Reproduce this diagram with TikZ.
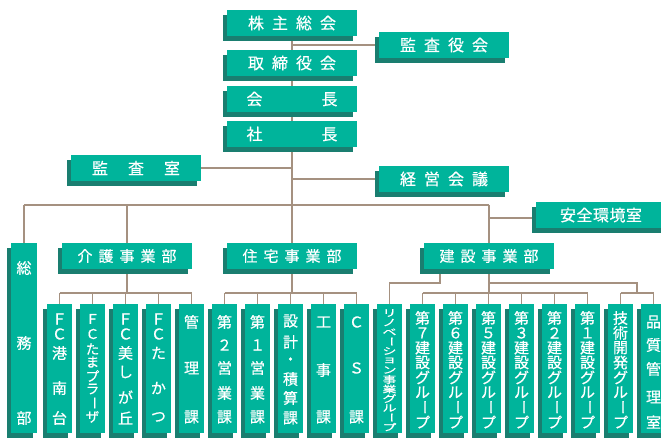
\documentclass[tikz,border=0pt]{standalone}
\usepackage{fontspec}
\setmainfont{Noto Sans CJK JP}[FakeBold=0.5]
\usetikzlibrary{shadows,calc}
\definecolor{face}{RGB}{0,180,155}
\definecolor{shade}{RGB}{26,126,112}
\definecolor{wirec}{RGB}{165,145,128}
\pgfdeclarelayer{bg}
\pgfsetlayers{bg,main}
\newcommand\vtxt[2]{\foreach \yy/\cc in {#2}{\node[vch] at (#1,\yy) {\cc};}}
\newcommand\vchoon{\rotatebox[origin=c]{-90}{ー}}
\begin{document}
\begin{tikzpicture}[x=1pt,y=-1pt,
  box/.style={fill=face, text=white, inner sep=0pt, outer sep=0pt,
    general shadow={fill=shade, shadow xshift=-4pt, shadow yshift=-5pt}},
  hbox/.style={box, minimum width=130pt, minimum height=26pt, font=\fontsize{16}{16}\selectfont},
  dbox/.style={box, minimum width=130pt, minimum height=26pt, font=\fontsize{15}{15}\selectfont},
  vbox/.style={box, minimum width=25pt, minimum height=129pt},
  vch/.style={text=white, inner sep=0pt, font=\fontsize{15}{15}\selectfont},
  tch/.style={text=white, inner sep=0pt, font=\fontsize{13.5}{13.5}\selectfont},
  sch/.style={text=white, inner sep=0pt, font=\fontsize{14}{14}\selectfont},
  wire/.style={draw=wirec, line width=1.2pt}]
\useasboundingbox (0,0) rectangle (661,438);

% upper boxes
\node[hbox] (kabu) at (292,23) {株\kern8pt 主\kern8pt 総\kern8pt 会};
\node[hbox] (kansayaku) at (444,45) {監\kern8pt 査\kern8pt 役\kern8pt 会};
\node[hbox] (torishimari) at (292,63) {取\kern8pt 締\kern8pt 役\kern8pt 会};
\node[hbox] (kaicho) at (292,99) {会\kern59pt 長};
\node[hbox] (shacho) at (292,134) {社\kern59pt 長};
\node[hbox] (kansashitsu) at (136,168) {監\kern20pt 査\kern20pt 室};
\node[hbox] (keiei) at (444,179) {経\kern8pt 営\kern8pt 会\kern8pt 議};
\node[hbox] (anzen) at (601,215) {安\kern0.5pt 全\kern0.5pt 環\kern0.5pt 境\kern0.5pt 室};
\node[dbox] (kaigo) at (127,256) {介\kern6pt 護\kern6pt 事\kern6pt 業\kern6pt 部};
\node[dbox] (jutaku) at (292,256) {住\kern6pt 宅\kern6pt 事\kern6pt 業\kern6pt 部};
\node[dbox] (kensetsu) at (489,256) {建\kern6pt 設\kern6pt 事\kern6pt 業\kern6pt 部};
\node[box, minimum width=26pt, minimum height=190pt] (somu) at (24,338) {};

% lower boxes
\foreach \i in {0,...,18}
  \node[vbox] (c\i) at ({59.5+33*\i},368.5) {};

% helper coordinates
\coordinate (bus) at (0,205);
\coordinate (sub) at (0,293);
\coordinate (mid) at (0,283);
\coordinate (kbr) at (440,262);
\coordinate (tg) at ($(c17)!0.5!(c18)$);

\begin{pgfonlayer}{bg}
\draw[wire] (kabu) -- (jutaku |- sub);
\draw[wire] (kansayaku) -- (kansayaku -| kabu);
\draw[wire] (kansashitsu) -- (kansashitsu -| kabu);
\draw[wire] (keiei) -- (keiei -| kabu);
\draw[wire] (somu |- bus) -- (kensetsu |- bus);
\draw[wire] (somu) -- (somu |- bus);
\draw[wire] (kaigo |- bus) -- (kaigo |- sub);
\draw[wire] (kensetsu |- bus) -- (kensetsu |- sub);
\draw[wire] ([yshift=-3pt]anzen.center) -- ([yshift=-3pt]anzen.center -| kensetsu);
\draw[wire] (c0 |- sub) -- (c4 |- sub);
\draw[wire] (c5 |- sub) -- (c9 |- sub);
\draw[wire] (c11 |- sub) -- (c16 |- sub);
\draw[wire] (c17 |- sub) -- (c18 |- sub);
\foreach \i in {0,1,2,3,4,5,6,7,8,9,11,12,13,14,15,16,17,18}
  \draw[wire] (c\i) -- (c\i |- sub);
\draw[wire] (kbr) |- (c10 |- mid) -- (c10);
\draw[wire] (kensetsu |- mid) -- (tg |- mid) -- (tg |- sub);
\end{pgfonlayer}

% vertical texts
\vtxt{24}{268/総,343/務,418/部}
\vtxt{59.5}{319/Ｆ,334/Ｃ,353/港,388/南,418/台}
\foreach \ty/\tc in {319/Ｆ,334/Ｃ,349/た,362/ま,376/プ,389/ラ,403/\vchoon,417/ザ}
  \node[tch] at (92.5,\ty) {\tc};
\vtxt{125.5}{319/Ｆ,334/Ｃ,353/美,372/し,397/が,418/丘}
\vtxt{158.5}{319/Ｆ,334/Ｃ,353/た,388/か,417/つ}
\vtxt{191.5}{322/管,368/理,417/課}
\vtxt{224.5}{322/第,345/２,368/営,393/業,417/課}
\vtxt{257.5}{322/第,345/１,368/営,393/業,417/課}
\vtxt{290.5}{321/設,342/計,361/・,379/積,398/算,418/課}
\vtxt{323.5}{322/工,370/事,417/課}
\vtxt{356.5}{322/Ｃ,368/Ｓ,417/課}
\foreach \ry/\rc in {313/リ,322.5/ノ,332/ベ,341.5/\vchoon,351/シ,360.5/ョ,370/ン,379.5/事,389/業,398.5/グ,408/ル,417.5/\vchoon,427/プ}
  \node[sch] at (389.5,\ry) {\scalebox{1}[0.68]{\rc}};
\vtxt{422.5}{318/第,332.9/７,347.7/建,362.6/設,377.4/グ,392.3/ル,407.1/\vchoon,422/プ}
\vtxt{455.5}{318/第,332.9/６,347.7/建,362.6/設,377.4/グ,392.3/ル,407.1/\vchoon,422/プ}
\vtxt{488.5}{318/第,332.9/５,347.7/建,362.6/設,377.4/グ,392.3/ル,407.1/\vchoon,422/プ}
\vtxt{521.5}{318/第,332.9/３,347.7/建,362.6/設,377.4/グ,392.3/ル,407.1/\vchoon,422/プ}
\vtxt{554.5}{318/第,332.9/２,347.7/建,362.6/設,377.4/グ,392.3/ル,407.1/\vchoon,422/プ}
\vtxt{587.5}{318/第,332.9/１,347.7/建,362.6/設,377.4/グ,392.3/ル,407.1/\vchoon,422/プ}
\vtxt{620.5}{318/技,332.9/術,347.7/開,362.6/発,377.4/グ,392.3/ル,407.1/\vchoon,422/プ}
\vtxt{653.5}{322/品,345/質,369/管,397/理,422/室}
\end{tikzpicture}
\end{document}
